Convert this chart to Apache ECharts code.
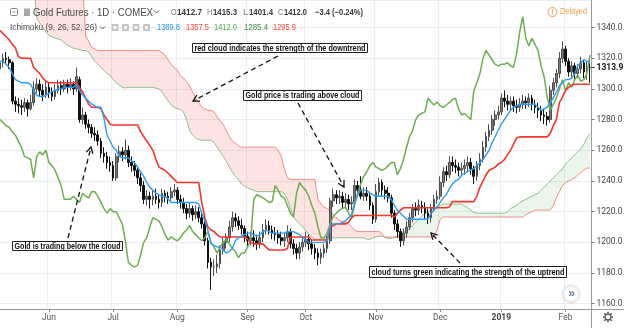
<!DOCTYPE html>
<html><head><meta charset="utf-8">
<script src="https://cdn.jsdelivr.net/npm/echarts@6.0.0/dist/echarts.min.js"></script>
<style>html,body{margin:0;padding:0;background:#fff}#c{width:624px;height:328px}</style>
</head><body><div id="c"></div>
<script>
// ---------- data ----------
const opens = [
1313,1317,1320,1319,1317,1292,1290,1289,1288,1291,
1287,1291,1300,1303,1299,1296,1301,1298,1295,1299,
1302,1300,1303,1301,1303,1300,1306,1280,1283,1277,
1275,1271,1270,1266,1258,1256,1252,1250,1242,1256,
1259,1257,1260,1252,1250,1247,1242,1237,1228,1230,
1228,1230,1228,1226,1232,1230,1229,1233,1234,1228,
1226,1222,1219,1222,1218,1220,1216,1212,1201,1187,
1184,1184,1186,1195,1200,1203,1210,1216,1214,1211,
1209,1204,1201,1203,1201,1199,1203,1208,1211,1208,
1206,1205,1203,1201,1203,1207,1199,1196,1193,1197,
1200,1202,1199,1196,1193,1190,1193,1196,1201,1227,
1231,1229,1230,1226,1228,1225,1226,1237,1234,1230,
1232,1230,1224,1215,1233,1239,1234,1232,1229,1219,
1212,1207,1201,1206,1210,1216,1222,1221,1224,1223,
1219,1216,1222,1228,1230,1239,1246,1244,1252,1250,
1249,1247,1248,1250,1252,1248,1243,1250,1254,1262,
1269,1273,1280,1283,1285,1294,1292,1290,1292,1289,
1288,1290,1292,1291,1294,1290,1288,1286,1283,1282,
1280,1299,1304,1310,1320,1326,1318,1311,1315,1310,
1313,1317,1311,1314];
const closes = [
1317,1320,1319,1317,1292,1290,1289,1288,1291,1287,
1291,1300,1303,1299,1296,1301,1298,1295,1299,1302,
1300,1303,1301,1303,1300,1308,1280,1283,1277,1275,
1271,1270,1266,1258,1256,1252,1250,1242,1256,1259,
1257,1260,1252,1250,1247,1242,1237,1228,1230,1228,
1230,1228,1226,1232,1230,1229,1233,1234,1228,1226,
1222,1219,1222,1218,1220,1216,1212,1201,1187,1184,
1184,1186,1195,1200,1203,1210,1216,1214,1211,1209,
1204,1201,1203,1201,1199,1203,1208,1211,1208,1206,
1205,1203,1201,1203,1207,1199,1196,1193,1197,1200,
1202,1199,1196,1193,1190,1193,1196,1201,1227,1231,
1229,1230,1226,1228,1225,1226,1237,1234,1230,1232,
1230,1224,1215,1233,1239,1234,1232,1229,1219,1212,
1207,1201,1206,1210,1216,1222,1221,1224,1223,1219,
1216,1222,1228,1230,1239,1246,1244,1252,1250,1249,
1247,1248,1250,1252,1248,1243,1250,1254,1262,1269,
1273,1280,1283,1285,1294,1292,1290,1292,1289,1288,
1290,1292,1291,1294,1290,1288,1286,1283,1282,1280,
1299,1304,1310,1320,1326,1318,1311,1315,1310,1313,
1317,1311,1314,1313.9];
const highs = [
1322,1323,1324,1321,1318,1295,1294,1293,1294,1293,
1296,1305,1307,1306,1303,1305,1304,1301,1303,1306,
1305,1306,1306,1307,1305,1314,1308,1288,1285,1280,
1277,1275,1273,1268,1262,1259,1256,1253,1258,1263,
1262,1267,1263,1256,1253,1249,1245,1240,1234,1233,
1234,1235,1231,1235,1234,1233,1236,1238,1236,1231,
1229,1225,1226,1224,1224,1223,1219,1214,1203,1190,
1189,1192,1198,1203,1206,1214,1220,1219,1217,1215,
1211,1207,1207,1208,1205,1207,1212,1215,1214,1211,
1210,1208,1207,1206,1211,1209,1202,1199,1200,1204,
1207,1205,1202,1199,1196,1196,1199,1204,1229,1235,
1234,1234,1233,1232,1231,1230,1241,1240,1243,1236,
1236,1233,1226,1238,1242,1241,1237,1236,1231,1221,
1215,1209,1209,1214,1219,1225,1226,1228,1227,1226,
1222,1225,1231,1234,1243,1249,1250,1256,1256,1254,
1252,1252,1254,1256,1255,1250,1253,1258,1266,1272,
1277,1283,1286,1289,1297,1299,1296,1295,1295,1293,
1294,1296,1295,1297,1296,1293,1291,1289,1287,1285,
1302,1307,1313,1324,1331,1328,1320,1318,1317,1316,
1321,1319,1318,1320];
const lows = [
1310,1314,1316,1313,1290,1285,1284,1283,1285,1282,
1286,1289,1297,1295,1292,1294,1294,1292,1293,1297,
1296,1298,1297,1299,1296,1298,1278,1277,1274,1271,
1268,1266,1263,1255,1252,1248,1246,1240,1240,1252,
1253,1254,1249,1246,1243,1238,1233,1225,1224,1222,
1224,1225,1222,1223,1226,1225,1227,1230,1225,1222,
1219,1215,1216,1214,1215,1213,1209,1198,1183,1169,
1178,1180,1183,1192,1196,1200,1207,1210,1208,1205,
1200,1197,1198,1197,1195,1196,1200,1205,1205,1202,
1201,1199,1198,1197,1200,1196,1192,1189,1189,1194,
1197,1195,1192,1189,1185,1186,1190,1193,1199,1223,
1225,1225,1222,1222,1221,1221,1224,1230,1228,1227,
1227,1221,1212,1213,1230,1230,1228,1226,1216,1208,
1203,1197,1198,1203,1208,1213,1217,1218,1219,1215,
1212,1213,1220,1225,1228,1236,1240,1242,1246,1245,
1243,1243,1244,1246,1244,1238,1240,1247,1252,1259,
1266,1270,1276,1280,1283,1288,1286,1286,1285,1284,
1285,1287,1287,1288,1286,1284,1281,1279,1277,1276,
1278,1296,1301,1307,1317,1315,1308,1308,1306,1307,
1310,1307,1306,1304];
const tenkan = [
1318,1318,1316,1314,1310,1306,1305,1304,1304,1304,
1303,1299,1296,1295,1295,1296,1297,1298,1299,1300,
1300,1301,1301,1301,1301,1303,1299,1296,1294,1292,
1290,1289,1288,1288,1281,1270,1266,1262,1260,1256,
1255,1255,1255,1253,1252,1249,1246,1243,1239,1236,
1234,1232,1231,1230,1230,1228,1226,1226,1226,1226,
1226,1226,1226,1226,1226,1225,1219,1214,1208,1199,
1198,1197,1197,1195,1193,1194,1196,1201,1203,1204,
1205,1206,1206,1205,1204,1205,1207,1208,1207,1206,
1206,1206,1206,1206,1207,1207,1207,1206,1205,1203,
1202,1200,1200,1200,1200,1200,1200,1201,1211,1212,
1212,1212,1213,1214,1216,1218,1226,1231,1234,1234,
1234,1232,1231,1230,1230,1230,1230,1230,1228,1224,
1221,1219,1217,1215,1215,1215,1215,1215,1215,1215,
1215,1219,1221,1223,1226,1229,1231,1235,1238,1240,
1241,1244,1245,1246,1247,1248,1250,1252,1254,1257,
1260,1265,1269,1273,1277,1280,1283,1286,1288,1289,
1290,1290,1290,1290,1290,1290,1288,1286,1287,1288,
1291,1294,1298,1302,1304,1306,1306,1307,1310,1315,
1317,1319,1318,1317];
const kijun = [
1338,1336,1334,1332,1329,1327,1321,1320,1320,1320,
1320,1314,1312,1310,1307,1305,1304,1304,1304,1304,
1304,1304,1304,1304,1304,1304,1301,1298,1294,1290,
1288,1288,1288,1287,1283,1280,1277,1276.5,1276.5,1276.5,
1276.5,1276.5,1276.5,1276.5,1276.5,1276.5,1272,1269,1266,1263,
1260,1254,1249,1248,1247,1245,1243,1241,1239,1239,
1239,1239,1239,1239,1239,1239,1226,1216,1210,1208,
1207,1205,1203.5,1203.5,1203.5,1203.5,1203.5,1203.5,1203.5,1203.5,
1203.5,1202,1200,1199,1199,1199,1199,1197,1195,1195,
1195,1195,1195,1195,1196,1203.5,1203.5,1203.5,1203.5,1203.5,
1203.5,1203.5,1201.5,1201.5,1201.5,1201.5,1201.5,1201.5,1210,1211,
1212,1212,1212,1212,1213,1216,1217.5,1217.5,1217.5,1217.5,
1217.5,1217.5,1217.5,1217.5,1217.5,1217.5,1217.5,1217.5,1217.5,1216.5,
1219,1221,1222.5,1222.5,1222.5,1222.5,1222.5,1222.5,1222.5,1222.5,
1222.5,1222.5,1222.5,1222.5,1222.5,1222.5,1222.5,1223,1226.5,1226.5,
1226.5,1226.5,1226.5,1226.5,1226.5,1226.5,1230,1236,1240,1244,
1247,1248,1249,1251,1252,1254,1257,1260,1264,1268,
1268.7,1268.7,1268.7,1268.7,1268.7,1268.7,1268.7,1268.7,1268.7,1268.7,
1271,1276,1280,1291,1294.6,1299,1301,1302.5,1303,1303,
1303,1303,1303,1303];
const chikou = [
1280,1278,1276,1275,1272,1270,1266,1262,1256,1255,
1254,1242,1256,1259,1257,1260,1252,1250,1247,1242,
1237,1228,1228,1228,1230,1228,1226,1232,1230,1229,
1233,1233,1230,1226,1222,1219,1222,1220,1220,1216,
1212,1201,1187,1185,1184,1185,1192,1200,1203,1210,
1216,1215,1214,1210,1205,1201.5,1203.5,1202,1201,1203,
1206,1208,1211,1207,1205,1203,1201,1203,1207,1200,
1197,1193,1197,1200,1202,1199,1196,1194,1190,1193,
1193,1197,1201.5,1228,1231,1230,1229,1227.6,1226,1226.4,
1237,1234,1230,1229,1224,1219,1216.5,1232,1239,1236,
1234,1230,1224,1219,1210,1203,1203,1206,1212,1217,
1219,1221,1222,1223,1219,1216,1224,1232,1238,1243,
1246,1250,1252,1249,1248,1247,1248,1250,1252,1252,
1244,1248,1254,1262,1269,1273,1280,1283,1284,1285,
1294,1291.5,1289.5,1291.5,1289,1288,1289.5,1291,1293,1294,
1287,1283,1284,1282,1280,1299,1304,1310,1320,1325,
1322,1319,1316,1315,1316,1316,1317,1315,1314,1323,
1337,1347,1333,1328,1333,1329,1325,1315,1308,1295,
1286,1290,1294,1300,1306,1299,1304,1301,1306,1309,
1305,1306,1310,1322];
const spanA = [
1370,1370,1370,1370,1370,1370,1370,1370,1370,1370,
1370,1370,1346,1343,1340,1337,1335,1334,1333,1332.5,
1332,1330,1328.5,1327.5,1326.5,1326,1325.5,1325,1325,1324,
1321,1318,1316,1314,1312,1310,1309,1306,1304,1302.5,
1301,1300.6,1301,1301,1301,1301,1301,1301,1301,1301,
1301,1300.5,1300,1298,1295,1292,1289.5,1288,1287,1286.5,
1285,1280,1273,1270,1268,1267,1266.5,1266.5,1266.5,1266.5,
1265,1262,1259,1256,1253,1249,1246,1243,1241,1238,
1236.5,1235.5,1234.5,1234,1233,1233,1233,1233,1233,1233,
1233,1233,1233,1232,1228,1222,1217,1214,1212,1210,
1208,1205,1203.5,1202,1202,1202,1202,1202,1202,1203,
1203,1203,1203,1203,1203,1203,1203,1203,1203,1203,
1202,1202,1203,1203.5,1204,1204,1203,1202.5,1202.5,1203,
1204,1205,1206.5,1207.5,1209,1211,1213,1215,1217,1219,
1220,1221,1222.4,1223,1224,1225,1225,1225,1225,1225,
1225,1225,1223.5,1222.5,1221,1219.5,1219,1219,1219,1219,
1219,1219,1219,1219,1219,1219,1220,1222,1223,1224,
1226,1227,1228,1229,1230,1231,1232,1234,1236,1238,
1240,1242,1244,1246,1248,1251,1253,1255,1257,1259,
1261,1264,1268,1271];
const spanB = [
1370,1370,1370,1370,1370,1370,1370,1370,1370,1370,
1370,1370,1370,1370,1370,1370,1370,1370,1370,1370,
1370,1370,1370,1370,1370,1370,1370,1370,1335,1331,
1327,1326,1325,1325,1325,1325,1325,1325,1325,1325,
1325,1325,1325,1325,1325,1325,1325,1325,1325,1325,
1325,1325,1325,1323.5,1322,1319,1316,1314,1312,1309,
1307,1305,1302,1298,1294,1291,1288,1287,1286,1286,
1285,1282,1279,1277,1273,1269,1266,1264.5,1263,1262,
1262,1262,1262,1262,1262,1262,1262,1262,1262,1262,
1262,1260,1256,1248,1242,1241,1241,1241,1241,1241,
1241,1241,1241,1241,1228,1225,1223,1222,1221,1218,
1216,1214.5,1213.5,1213,1212,1210,1208,1207,1207,1207,
1207,1207,1207,1207,1207,1205.5,1203.5,1203.5,1203.5,1203.5,
1203.5,1203.5,1203.5,1203.5,1203.5,1203.5,1203.5,1203.5,1203.5,1203.5,
1203.5,1203.5,1203.5,1208,1215,1216.5,1216.5,1216.5,1216.5,1216.5,
1216.5,1216.5,1216.5,1216.5,1216.5,1216.5,1216.5,1216.5,1216.5,1216.5,
1216.5,1216.5,1216.5,1216.5,1216.5,1216.5,1216.5,1216.5,1216.5,1216.5,
1216.5,1216.5,1218,1219,1220,1221,1221,1221,1221,1221,
1221,1224,1229,1233,1237,1239,1240,1241,1242,1244,
1245.5,1247,1248.4,1248.4];
const monthTickLabels = {'2018-06':'Jun','2018-07':'Jul','2018-08':'Aug','2018-09':'Sep','2018-10':'Oct','2018-11':'Nov','2018-12':'Dec','2019-01':'2019','2019-02':'Feb'};
const lastPrice = 1313.9;

// trading-day categories (weekdays minus exchange holidays)
const holidays = ['2018-05-28','2018-07-04','2018-09-03','2018-11-22','2018-12-25','2019-01-01','2019-01-21'];
const dates = [];
(function(){
  let t = Date.UTC(2018,4,9); const end = Date.UTC(2019,1,13);
  while (t <= end) { const d = new Date(t); const wd = d.getUTCDay(); const s = d.toISOString().slice(0,10);
    if (wd !== 0 && wd !== 6 && holidays.indexOf(s) < 0) dates.push(s); t += 86400000; }
})();
const isMonthStart = i => i > 0 && dates[i].slice(0,7) !== dates[i-1].slice(0,7);

const candles = dates.map((d,i)=>[opens[i],closes[i],lows[i],highs[i]]);
const cloudLow = spanA.map((a,i)=>Math.min(a,spanB[i]));
const cloudRed = spanA.map((a,i)=>Math.max(spanB[i]-a,0));
const cloudGreen = spanA.map((a,i)=>Math.max(a-spanB[i],0));

// ---------- chart ----------
const chart = echarts.init(document.getElementById('c'), null, {renderer:'canvas'});
const gridC = '#eaeef3';
const lineS = (name, data, color, w, z) => ({name, type:'line', data, symbol:'none', showSymbol:false, silent:true, z:z||3,
  lineStyle:{color, width:w}, itemStyle:{color}, emphasis:{disabled:true}, clip:true});
const option = {
  animation:false, backgroundColor:'#fff',
  grid:{left:-1.5, right:32.5, top:0, bottom:19, outerBoundsMode:'none', containLabel:false},
  xAxis:{type:'category', data:dates, boundaryGap:true,
    axisLine:{show:true, lineStyle:{color:'#9a9a9a', width:1}},
    axisTick:{show:true, interval:(i)=>isMonthStart(i), alignWithLabel:true, length:3, lineStyle:{color:'#888'}},
    axisLabel:{show:true, interval:(i)=>isMonthStart(i), margin:4, fontSize:8.5, color:'#555', fontFamily:'Roboto',
      formatter:(v)=>{ const l = monthTickLabels[v.slice(0,7)]||''; return l==='2019' ? '{b|2019}' : l; },
      rich:{b:{fontWeight:'bold', fontSize:8.5, color:'#444', fontFamily:'Roboto'}}},
    splitLine:{show:true, interval:(i)=>isMonthStart(i), lineStyle:{color:gridC, width:1}}},
  yAxis:{type:'value', position:'right', min:1156.55, max:1357.92, splitNumber:10, scale:true,
    axisLine:{show:true, lineStyle:{color:'#9a9a9a'}},
    axisTick:{show:true, length:3, lineStyle:{color:'#777'}},
    axisLabel:{show:true, margin:5, fontSize:8.5, color:'#444', fontFamily:'Roboto', showMinLabel:false, showMaxLabel:false,
      formatter:(v)=> (Math.abs(v/20 - Math.round(v/20))<1e-6 ? v.toFixed(1) : '')},
    splitLine:{show:true, lineStyle:{color:gridC, width:1}}},
  series:[
    {name:'cloudBase', type:'line', data:cloudLow, stack:'cloud', symbol:'none', silent:true, z:1, lineStyle:{width:0, opacity:0}},
    {name:'cloudRed', type:'line', data:cloudRed, stack:'cloud', symbol:'none', silent:true, z:1, lineStyle:{width:0, opacity:0}, areaStyle:{color:'rgba(244,67,54,0.2)'}},
    {name:'cloudGreen', type:'line', data:cloudGreen, stack:'cloud', symbol:'none', silent:true, z:1, lineStyle:{width:0, opacity:0}, areaStyle:{color:'rgba(76,175,80,0.17)'}},
    lineS('Lead 1', spanA, 'rgba(67,160,71,0.6)', 1, 2),
    lineS('Lead 2', spanB, 'rgba(244,67,54,0.6)', 1, 2),
    {name:'Gold', type:'candlestick', data:candles, barWidth:2.2, silent:true, z:3,
      itemStyle:{color:'#7a7a7a', color0:'#111', borderColor:'#4f4f4f', borderColor0:'#111', borderWidth:1}},
    lineS('Lagging', chikou, '#6aaf4e', 1.5, 4),
    lineS('Base', kijun, '#f2362b', 1.6, 4),
    lineS('Conversion', tenkan, '#2a9df4', 1.4, 4)
  ]
};
chart.setOption(option);

// ---------- overlays (header, annotations) ----------
const mctx = document.createElement('canvas').getContext('2d');
function tw(t,f){ mctx.font=f; return mctx.measureText(t).width; }
function txt(t,x,y,font,fill,w,align){ const s = w ? w/tw(t,font) : 1;
  return {type:'text', x, y, scaleX:s, z:100, silent:true,
    style:{text:t, x:0, y:0, font, fill, textAlign:align||'left', align:align||'left', textVerticalAlign:'middle', verticalAlign:'middle'}}; }
const G = [];
// header line 1
G.push({type:'rect', z:100, shape:{x:10.5,y:8.5,width:7,height:7,r:1}, style:{fill:'none', stroke:'#8a8a8a', lineWidth:1}});
G.push({type:'line', z:100, shape:{x1:12.5,y1:12,x2:15.5,y2:12}, style:{stroke:'#8a8a8a', lineWidth:1}});
G.push({type:'rect', z:100, shape:{x:24,y:8.5,width:6,height:7.5}, style:{fill:'#a9a9a9'}});
G.push(txt('Gold Futures · 1D · COMEX', 33, 12.5, '11.5px "Liberation Sans"', '#4a4a4a', 120));
G.push({type:'polyline', z:100, shape:{points:[[154,10.5],[156.5,13],[159,10.5]]}, style:{stroke:'#555', lineWidth:1, fill:'none'}});
const ohlc = [['O','1412.7',171,202],['H','1415.3',207,237],['L','1401.4',243,273],['C','1412.0',278,307]];
ohlc.forEach(g=>{ G.push(txt(g[0], g[2], 12.5, '9px "Liberation Sans"', '#7a7a7a', 5.5));
  G.push(txt(g[1], g[2]+6, 12.5, 'bold 9px "Liberation Sans"', '#3a3a3a', g[3]-g[2]-6)); });
G.push(txt('−3.4 (−0.24%)', 315, 12.5, 'bold 9px "Liberation Sans"', '#3a3a3a', 48));
// delayed
G.push({type:'circle', z:100, shape:{cx:552.5, cy:12, r:4.5}, style:{fill:'none', stroke:'#f5a04a', lineWidth:1}});
G.push(txt('!', 552.5, 12.2, 'bold 7px "Liberation Sans"', '#f5a04a', 0, 'center'));
G.push(txt('Delayed', 560, 12, '9px "Liberation Sans"', '#f5a04a', 27));
// header line 2
G.push(txt('Ichimoku (9, 26, 52, 26)', 10, 28, '9px "Liberation Sans"', '#4a4a4a', 87));
G.push({type:'polyline', z:100, shape:{points:[[100,26.5],[102.5,29],[105,26.5]]}, style:{stroke:'#555', lineWidth:1, fill:'none'}});
[111.5,122,132.5,143].forEach(x=>{ G.push({type:'rect', z:100, shape:{x, y:24, width:7, height:7, r:1}, style:{fill:'#c4c4c4'}});
  G.push({type:'rect', z:101, shape:{x:x+2, y:26, width:3, height:3}, style:{fill:'#fff'}}); });
const vals = [['1389.8',157,180,'#2196f3'],['1357.5',186,209,'#f44336'],['1412.0',214,237,'#4caf50'],['1285.4',244,268,'#388e3c'],['1295.9',273,296,'#f44336']];
vals.forEach(v=>G.push(txt(v[0], v[1], 28, '9px "Liberation Sans"', v[3], v[2]-v[1])));
// annotation boxes
function box(x1,y1,x2,y2,t){ G.push({type:'rect', z:110, shape:{x:x1+0.5,y:y1+0.5,width:x2-x1,height:y2-y1}, style:{fill:'#fff', stroke:'#222', lineWidth:1}});
  G.push(Object.assign(txt(t,(x1+x2)/2+0.5,(y1+y2)/2+1,'bold 8.5px "Liberation Sans"','#111',x2-x1-4,'center'),{z:111})); }
box(192,43,367,52,'red cloud indicates the strength of the downtrend');
box(243,90,361,100,'Gold price is trading above cloud');
box(12,241,122,250,'Gold is trading below the cloud');
box(369,266,566,277,'cloud turns green indicating the strength of the uptrend');
function arrow(x1,y1,x2,y2){ G.push({type:'line', z:105, shape:{x1,y1,x2,y2}, style:{stroke:'#111', lineWidth:1.3, lineDash:[5,3.5]}});
  const a = Math.atan2(y1-y2,x1-x2), L=7, d=0.5;
  G.push({type:'polyline', z:106, shape:{points:[[x2+L*Math.cos(a+d),y2+L*Math.sin(a+d)],[x2,y2],[x2+L*Math.cos(a-d),y2+L*Math.sin(a-d)]]}, style:{stroke:'#111', lineWidth:1.3, fill:'none'}}); }
arrow(278,56,193,101);
arrow(298,103,344,187);
arrow(68,238,91,147);
arrow(460,263,431,233);
// last price label
const py = chart.convertToPixel({yAxisIndex:0}, lastPrice);
G.push({type:'line', z:100, shape:{x1:591.5,y1:py,x2:594.5,y2:py}, style:{stroke:'#333', lineWidth:1}});
G.push(txt(lastPrice.toFixed(1), 596.5, py, 'bold 8.5px Roboto', '#111'));
// frame lines below plot
G.push({type:'line', z:90, shape:{x1:591.5,y1:0,x2:591.5,y2:328}, style:{stroke:'#9a9a9a', lineWidth:1}});
G.push({type:'line', z:90, shape:{x1:0,y1:309.5,x2:624,y2:309.5}, style:{stroke:'#9a9a9a', lineWidth:1}});
// scroll button
G.push({type:'circle', z:100, shape:{cx:571, cy:294, r:8}, style:{fill:'#fff', stroke:'#e3e6ec', lineWidth:1, shadowBlur:3, shadowColor:'rgba(0,0,0,0.15)'}});
G.push(txt('»', 571.5, 293.5, 'bold 12px "Liberation Sans"', '#5a7fb0', 0, 'center'));
// gear
G.push({type:'circle', z:100, shape:{cx:608, cy:317, r:3}, style:{fill:'none', stroke:'#555', lineWidth:1.3}});
for (let k=0;k<8;k++){ const a=k*Math.PI/4; G.push({type:'line', z:100, shape:{x1:608+3.5*Math.cos(a),y1:317+3.5*Math.sin(a),x2:608+5.2*Math.cos(a),y2:317+5.2*Math.sin(a)}, style:{stroke:'#555', lineWidth:1.4}}); }
chart.setOption({graphic:{elements:G}});
</script></body></html>
